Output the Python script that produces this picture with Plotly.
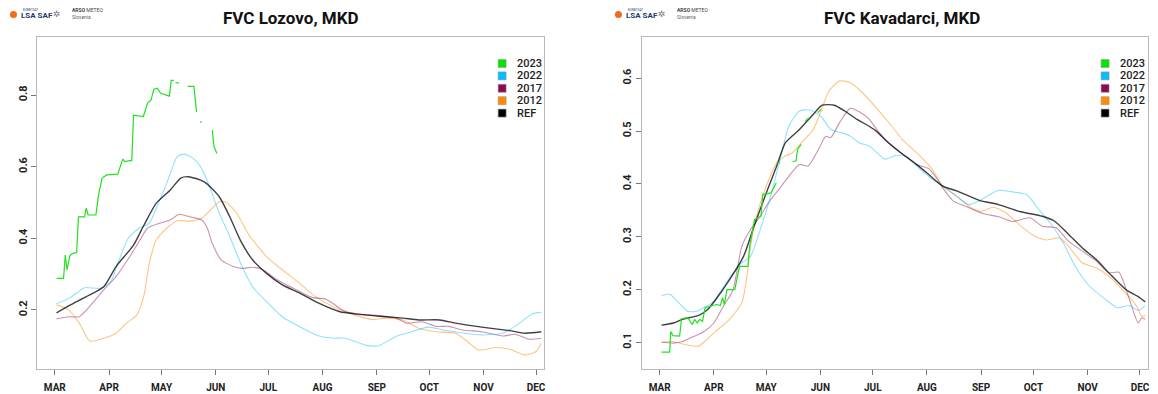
import plotly.graph_objects as go

W, H = 1158, 394

# ---------------- data (day of year, FVC) ----------------
month_ticks = [60, 91, 121, 152, 182, 213, 244, 274, 305, 335]
month_labels = ["MAR", "APR", "MAY", "JUN", "JUL", "AUG", "SEP", "OCT", "NOV", "DEC"]
series_names = ["2023", "2022", "2017", "2012", "REF"]

# Lozovo
lz_2023_day = [61, 65, 66, 67, 68.7, 70.6, 72.5, 73.5, 77, 78, 79, 83.5, 85, 87, 89.7, 96, 98.8, 100, 103, 104, 105,
               110.6, 113, 115, 116.6, 118.6, 120.5, 123, 125.5, 126.5, 128, None, 129, 131, None, 136, 139.5, 141,
               None, 143, 144, None, 150, 151, 152.6]
lz_2023_val = [0.288, 0.288, 0.353, 0.312, 0.353, 0.358, 0.36, 0.46, 0.46, 0.484, 0.465, 0.465, 0.521, 0.568, 0.577,
               0.579, 0.621, 0.614, 0.617, 0.617, 0.744, 0.74, 0.777, 0.786, 0.816, 0.819, 0.805, 0.802, 0.797, 0.841,
               0.841, None, 0.835, 0.833, None, 0.824, 0.824, 0.753, None, 0.725, 0.725, None, 0.702, 0.656, 0.637]
lz_2022_day = [61, 69, 77, 86, 92, 96, 102, 108, 114, 118, 124, 130, 134, 139, 143, 148, 154, 160, 167, 173, 181, 190,
               200, 211, 219, 226, 238, 245, 255, 264, 273, 282, 291, 304, 316, 323, 333, 338]
lz_2022_val = [0.217, 0.235, 0.262, 0.26, 0.279, 0.33, 0.40, 0.428, 0.442, 0.484, 0.554, 0.628, 0.635, 0.623, 0.602,
               0.55, 0.47, 0.405, 0.321, 0.265, 0.223, 0.181, 0.153, 0.127, 0.121, 0.121, 0.101, 0.1, 0.126, 0.139,
               0.152, 0.144, 0.137, 0.13, 0.135, 0.154, 0.189, 0.193]
lz_2017_day = [61, 68, 74, 81, 88, 95, 101, 107, 113, 120, 126, 131, 137, 144, 147, 150, 155, 162, 167, 173, 179, 187,
               198, 207, 215, 225, 232, 240, 255, 261, 270, 278, 285, 293, 304, 316, 323, 331, 338]
lz_2017_val = [0.175, 0.181, 0.181, 0.216, 0.256, 0.293, 0.335, 0.381, 0.428, 0.442, 0.451, 0.467, 0.46, 0.451, 0.43,
               0.386, 0.34, 0.321, 0.316, 0.319, 0.312, 0.284, 0.256, 0.235, 0.23, 0.198, 0.188, 0.186, 0.177, 0.163,
               0.167, 0.154, 0.154, 0.144, 0.139, 0.127, 0.132, 0.118, 0.121]
lz_2012_day = [61, 68, 74, 80, 88, 95, 101, 107, 111, 114, 118, 124, 130, 137, 144, 148, 154, 158, 164, 171, 181, 190,
               200, 209, 219, 228, 242, 249, 259, 268, 278, 289, 297, 302, 312, 320, 329, 335, 338]
lz_2012_val = [0.214, 0.2, 0.163, 0.113, 0.121, 0.135, 0.163, 0.186, 0.242, 0.33, 0.395, 0.428, 0.449, 0.448, 0.456,
               0.474, 0.502, 0.5, 0.47, 0.409, 0.349, 0.312, 0.274, 0.237, 0.209, 0.191, 0.173, 0.177, 0.172, 0.149,
               0.139, 0.135, 0.107, 0.088, 0.095, 0.09, 0.074, 0.084, 0.107]
lz_ref_day = [61, 69, 78, 88, 95, 105, 111, 118, 126, 132, 136, 143, 147, 154, 160, 166, 173, 181, 190, 200, 209, 223,
              232, 242, 249, 259, 268, 280, 289, 304, 320, 329, 338]
lz_ref_val = [0.192, 0.214, 0.237, 0.265, 0.321, 0.381, 0.437, 0.498, 0.535, 0.568, 0.572, 0.563, 0.552, 0.516, 0.46,
              0.395, 0.34, 0.302, 0.27, 0.247, 0.223, 0.195, 0.189, 0.184, 0.181, 0.177, 0.172, 0.172, 0.163, 0.152,
              0.142, 0.135, 0.139]

# Kavadarci
kv_2023_day = [61, 65.7, 66.3, 67.6, 71.4, 72.5, 76, 78.7, 80, 81.5, 82.9, 84.5, 86, 88.6, 92.4, 94.7, 96, 97, 98.5,
               103, 105.7, 110.5, 111.5, 114.3, 118, 119, 123.8, 126.7, None, 127, 129, None, 136, 138, 139, 141,
               None, 143.3, 145.8, None, 150.5, 152.4]
kv_2023_val = [0.082, 0.082, 0.121, 0.113, 0.112, 0.145, 0.147, 0.134, 0.144, 0.137, 0.144, 0.14, 0.166, 0.169, 0.172,
               0.17, 0.185, 0.172, 0.2, 0.2, 0.244, 0.244, 0.282, 0.333, 0.339, 0.38, 0.383, 0.402, None, 0.44, 0.44,
               None, 0.443, 0.443, 0.466, 0.475, None, 0.519, 0.526, None, 0.535, 0.541]
kv_2022_day = [61, 66, 71, 76, 81, 87, 91, 98, 106, 112, 117, 123, 129, 134, 140, 146, 152, 158, 163, 169, 174, 180,
               189, 195, 201, 209, 216, 222, 230, 237, 245, 254, 262, 270, 277, 285, 291, 298, 306, 314, 322, 329,
               334, 338]
kv_2022_val = [0.189, 0.191, 0.175, 0.159, 0.159, 0.169, 0.178, 0.213, 0.248, 0.263, 0.308, 0.371, 0.447, 0.51, 0.538,
               0.54, 0.529, 0.503, 0.498, 0.491, 0.478, 0.472, 0.447, 0.454, 0.453, 0.428, 0.409, 0.397, 0.377, 0.361,
               0.372, 0.388, 0.385, 0.38, 0.352, 0.32, 0.289, 0.244, 0.207, 0.185, 0.166, 0.17, 0.161, 0.17]
kv_2017_day = [61, 68, 73, 79, 85, 91, 96, 102, 107, 112, 117, 123, 129, 134, 140, 145, 151, 155, 158, 163, 169, 175,
               180, 185, 191, 199, 207, 214, 219, 222, 228, 235, 245, 254, 262, 272, 279, 287, 294, 302, 310, 317,
               323, 329, 334, 336, 338]
kv_2017_val = [0.101, 0.099, 0.102, 0.111, 0.12, 0.137, 0.166, 0.2, 0.282, 0.314, 0.336, 0.368, 0.393, 0.415, 0.437,
               0.434, 0.466, 0.49, 0.488, 0.516, 0.543, 0.535, 0.522, 0.5, 0.478, 0.456, 0.437, 0.429, 0.409, 0.393,
               0.368, 0.358, 0.344, 0.338, 0.329, 0.336, 0.32, 0.317, 0.292, 0.273, 0.254, 0.232, 0.233, 0.181, 0.137,
               0.147, 0.144]
kv_2012_day = [61, 67, 75, 82, 87, 92, 100, 107, 110, 112, 116, 121, 127, 132, 136, 142, 148, 152, 157, 163, 169, 176,
               184, 192, 199, 209, 216, 222, 230, 237, 244, 251, 258, 268, 275, 281, 289, 294, 302, 310, 317, 325,
               333, 336, 338]
kv_2012_val = [0.1, 0.102, 0.096, 0.093, 0.106, 0.121, 0.144, 0.175, 0.226, 0.282, 0.346, 0.396, 0.44, 0.453, 0.459,
               0.481, 0.503, 0.535, 0.576, 0.595, 0.592, 0.573, 0.544, 0.513, 0.484, 0.453, 0.428, 0.396, 0.377, 0.358,
               0.348, 0.356, 0.346, 0.317, 0.301, 0.294, 0.298, 0.282, 0.251, 0.241, 0.226, 0.2, 0.169, 0.15, 0.151]
kv_ref_day = [61, 68, 73, 82, 87, 92, 100, 108, 114, 121, 127, 132, 140, 148, 153, 160, 166, 173, 178, 184, 190, 197,
              207, 214, 222, 230, 243, 254, 266, 279, 286, 294, 302, 310, 318, 327, 334, 338]
kv_ref_val = [0.133, 0.137, 0.144, 0.151, 0.161, 0.181, 0.219, 0.263, 0.32, 0.383, 0.434, 0.478, 0.503, 0.532, 0.549,
              0.549, 0.538, 0.522, 0.513, 0.5, 0.481, 0.462, 0.437, 0.418, 0.396, 0.387, 0.369, 0.361, 0.348, 0.339,
              0.33, 0.305, 0.279, 0.257, 0.229, 0.2, 0.187, 0.177]

# ---------------- styles ----------------
legend_colors = ["#00e600", "#00bfff", "#8b0a50", "#ff8c00", "#000000"]
line_colors = ["#22e022", "rgba(0,191,255,0.45)", "rgba(139,10,80,0.45)", "rgba(255,140,0,0.5)", "rgba(0,0,0,0.75)"]
line_widths = [1.2, 1.1, 1.1, 1.1, 1.4]
line_shapes = ["linear", "spline", "spline", "spline", "spline"]


def px(x):
    return x / W


def py(y):
    return 1 - y / H


fig = go.Figure()

panels = [
    dict(ax="", title="FVC Lozovo, MKD", title_x=292,
         data=[(lz_2023_day, lz_2023_val), (lz_2022_day, lz_2022_val), (lz_2017_day, lz_2017_val),
               (lz_2012_day, lz_2012_val), (lz_ref_day, lz_ref_val)],
         dom=(37, 545), yrange=[0.035, 0.962], yticks=[0.2, 0.4, 0.6, 0.8], leg_x=499, logo_x=0),
    dict(ax="2", title="FVC Kavadarci, MKD", title_x=904,
         data=[(kv_2023_day, kv_2023_val), (kv_2022_day, kv_2022_val), (kv_2017_day, kv_2017_val),
               (kv_2012_day, kv_2012_val), (kv_ref_day, kv_ref_val)],
         dom=(643, 1150), yrange=[0.050, 0.678], yticks=[0.1, 0.2, 0.3, 0.4, 0.5, 0.6], leg_x=1103, logo_x=606),
]

shapes = []
annotations = []
draw_order = [3, 2, 1, 4, 0]  # 2012, 2017, 2022, REF, 2023 on top

for p in panels:
    ax = p["ax"]
    for i in draw_order:
        xs, ys = p["data"][i]
        line = dict(color=line_colors[i], width=line_widths[i], shape=line_shapes[i])
        if line_shapes[i] == "spline":
            line["smoothing"] = 0.6
        fig.add_trace(go.Scatter(x=xs, y=ys, mode="lines", name=series_names[i], showlegend=False,
                                 connectgaps=False, hoverinfo="skip", line=line,
                                 xaxis="x" + ax, yaxis="y" + ax))
    common_axis = dict(showgrid=False, zeroline=False, showline=True, mirror=True, linecolor="#b8b8b8",
                       linewidth=1, ticks="outside", ticklen=5, tickcolor="#777", tickwidth=1)
    fig.layout["xaxis" + ax] = dict(domain=[px(p["dom"][0]), px(p["dom"][1])], range=[49.8, 339.6],
                                    anchor="y" + ax, tickvals=month_ticks, ticktext=month_labels,
                                    tickfont=dict(family="Roboto", size=10, color="#222", weight="bold"),
                                    ticklabelstandoff=4, **common_axis)
    fig.layout["yaxis" + ax] = dict(domain=[py(369), py(37)], range=p["yrange"], anchor="x" + ax,
                                    tickvals=p["yticks"], ticktext=[f"{v:.1f}" for v in p["yticks"]],
                                    tickangle=-90,
                                    tickfont=dict(family="Roboto", size=11, color="#222", weight="bold"),
                                    **common_axis)
    # title
    annotations.append(dict(text="<b>" + p["title"] + "</b>", x=px(p["title_x"]), y=py(18), xref="paper",
                            yref="paper", showarrow=False, xanchor="center", yanchor="middle",
                            font=dict(family="Roboto", size=17, color="#111")))
    # legend (manual, square keys)
    for k, name in enumerate(series_names):
        yc = 63.5 + k * 12.4
        lx = p["leg_x"]
        shapes.append(dict(type="rect", xref="paper", yref="paper", x0=px(lx), x1=px(lx + 8),
                           y0=py(yc + 4), y1=py(yc - 4), fillcolor=legend_colors[k],
                           line=dict(color="#999", width=0.6)))
        annotations.append(dict(text=name, x=px(lx + 17), y=py(yc), xref="paper", yref="paper",
                                showarrow=False, xanchor="left", yanchor="middle",
                                font=dict(family="Roboto", size=11, color="#222", weight=500)))
    # logos
    ox = p["logo_x"]
    shapes.append(dict(type="circle", xref="paper", yref="paper", x0=px(ox + 10), x1=px(ox + 17),
                       y0=py(18), y1=py(11), fillcolor="#f26a1b", line=dict(width=0)))
    annotations.append(dict(text="<b>LSA SAF</b>", x=px(ox + 19), y=py(15), xref="paper", yref="paper",
                            showarrow=False, xanchor="left", yanchor="middle",
                            font=dict(family="Roboto", size=8, color="#1d3a6e")))
    annotations.append(dict(text="EUMETSAT", x=px(ox + 21), y=py(9.5), xref="paper", yref="paper",
                            showarrow=False, xanchor="left", yanchor="middle",
                            font=dict(family="Roboto", size=3, color="#1d3a6e")))
    annotations.append(dict(text="✲", x=px(ox + 57), y=py(14), xref="paper", yref="paper",
                            showarrow=False, xanchor="center", yanchor="middle",
                            font=dict(family="DejaVu Sans", size=9, color="#777")))
    annotations.append(dict(text="<b>ARSO</b> METEO", x=px(ox + 70), y=py(10.5), xref="paper", yref="paper",
                            showarrow=False, xanchor="left", yanchor="middle",
                            font=dict(family="Roboto", size=5, color="#444")))
    annotations.append(dict(text="Slovenia", x=px(ox + 70), y=py(17), xref="paper", yref="paper",
                            showarrow=False, xanchor="left", yanchor="middle",
                            font=dict(family="Roboto", size=5, color="#666")))

fig.update_layout(width=W, height=H, autosize=False, margin=dict(l=0, r=0, t=0, b=0),
                  paper_bgcolor="white", plot_bgcolor="white", showlegend=False,
                  shapes=shapes, annotations=annotations)

fig.write_html("out.html", config={"displayModeBar": False},
               post_script="document.body.style.margin='0px';document.body.style.padding='0px';")
